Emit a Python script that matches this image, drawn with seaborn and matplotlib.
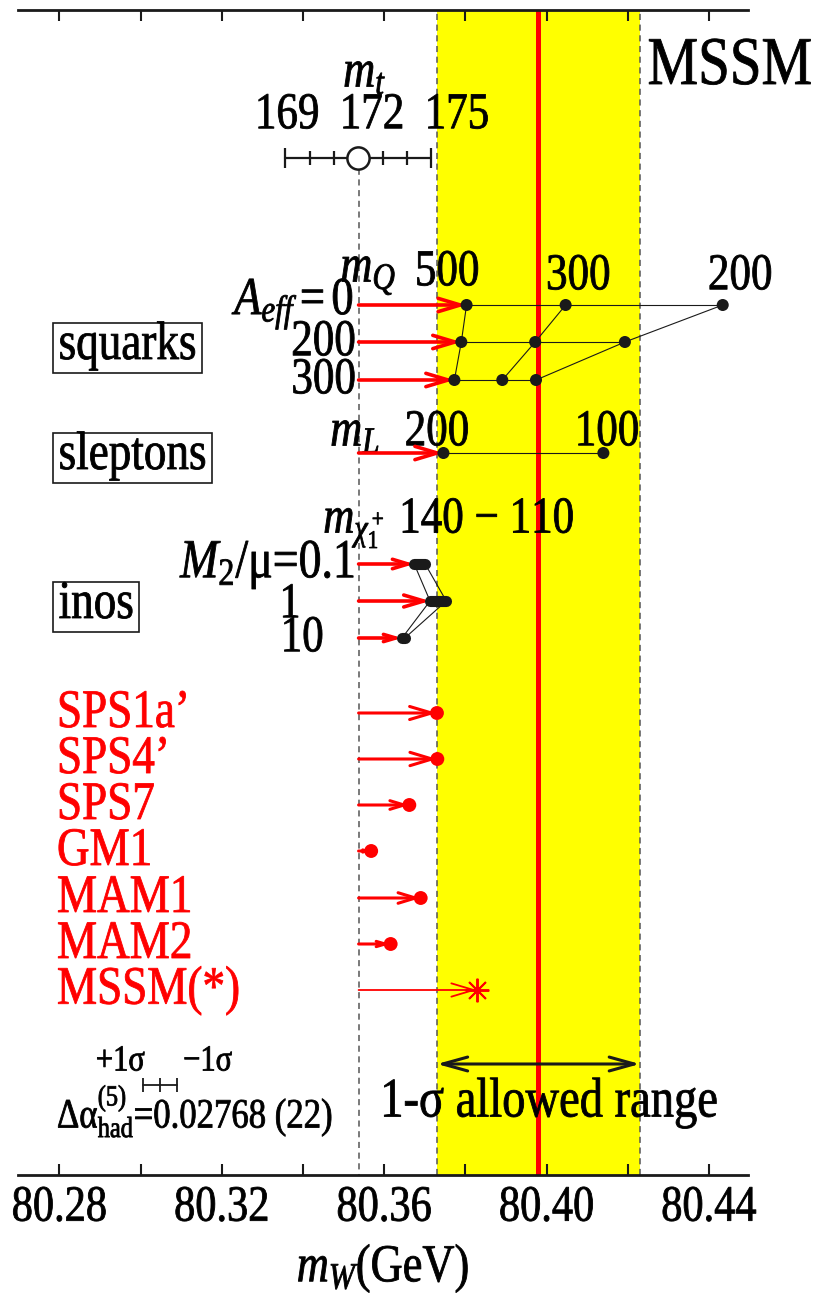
import matplotlib
matplotlib.use('Agg')
import matplotlib.pyplot as plt
import matplotlib.patheffects as pe
import seaborn as sns
import pandas as pd
from matplotlib.ticker import FixedLocator, FormatStrFormatter
from matplotlib.transforms import Affine2D

# ---- data (m_W in GeV) ----
mw_exp = 80.398
mw_err = 0.025
sm_ref = 80.3537

mt_vals = [169, 170, 171, 172, 173, 174, 175]
mt_mw = [80.3356, 80.3418, 80.3477, 80.3535, 80.3596, 80.3656, 80.3715]
mt_labels = ['169', '172', '175']
mt_label_x = [80.3361, 80.3570, 80.3779]

squark_mq = [500, 300, 200]
squark_aeff = [0, 200, 300]
squark_mw = [[80.3803, 80.4047, 80.4434],
             [80.3790, 80.3972, 80.4193],
             [80.3773, 80.3891, 80.3974]]

slepton_ml = [200, 100]
slepton_mw = [80.3746, 80.4140]

ino_ratio = ['0.1', '1', '10']
ino_mw_140 = [80.3674, 80.3713, 80.3644]
ino_mw_110 = [80.3701, 80.3753, 80.3651]

sps_names = ["SPS1a\u2019", "SPS4\u2019", "SPS7", "GM1", "MAM1", "MAM2", "MSSM(*)"]
sps_mw = [80.3730, 80.3731, 80.3662, 80.3568, 80.3690, 80.3616, 80.3828]

dalpha_mw = [80.3007, 80.3049, 80.3090]

# ---- row layout (vertical positions, top = small) ----
y_mt_lab, y_mt_num, y_mt = 73, 115, 158
y_mq_lab = 272
y_sq = [305, 342, 380]
y_ml_lab, y_sl = 432, 453
y_chi_lab = 522
y_ino = [564, 601, 638]
y_sps = [713, 759, 805, 851, 898, 944, 990]
y_sig_lab, y_da, y_da_lab = 1060, 1085, 1110
y_range, y_range_lab = 1064, 1102

sns.set_theme(style='white')
plt.rcParams['font.family'] = ['Liberation Serif', 'DejaVu Serif']
plt.rcParams['mathtext.fontset'] = 'custom'
plt.rcParams['mathtext.rm'] = 'Liberation Serif'
plt.rcParams['mathtext.it'] = 'Liberation Serif:italic'
plt.rcParams['mathtext.bf'] = 'Liberation Serif:bold'
plt.rcParams['text.color'] = 'black'
plt.rcParams['axes.labelcolor'] = 'black'
plt.rcParams['xtick.color'] = 'black'


class TallText(pe.AbstractPathEffect):
    """stretch glyphs vertically about the baseline and thicken them a little"""

    def __init__(self, sy=1.2, lw=0.6):
        super().__init__()
        self._sy = sy
        self._lw = lw

    def draw_path(self, renderer, gc, tpath, affine, rgbFace=None):
        gc0 = renderer.new_gc()
        gc0.copy_properties(gc)
        if rgbFace is not None:
            gc0.set_foreground(rgbFace)
            gc0.set_linewidth(self._lw)
        renderer.draw_path(gc0, tpath, Affine2D().scale(1, self._sy) + affine, rgbFace)
        gc0.restore()


TALL = [TallText()]

fig = plt.figure(figsize=(8.18, 13.09), dpi=100)
ax = fig.add_axes([18 / 818, 134.5 / 1309, 730.3 / 818, 1165 / 1309])
ax.set_xlim(80.2698, 80.4497)
ax.set_ylim(1174.5, 9.5)

RED = '#ff0000'
GREY = '#555555'


def txt(x, y, s, size=31, **kw):
    kw.setdefault('ha', 'center')
    kw.setdefault('va', 'center')
    return ax.text(x, y + 3, s, fontsize=size, path_effects=TALL, **kw)


# experimental band
ax.axvspan(mw_exp - mw_err, mw_exp + mw_err, color='#ffff00', zorder=0, lw=0)
for xb in (mw_exp - mw_err, mw_exp + mw_err):
    ax.axvline(xb, ls=(0, (4, 3)), color=GREY, lw=1.1, zorder=1)
ax.axvline(mw_exp, color=RED, lw=3.6, zorder=2)

# SM reference line
ax.plot([sm_ref, sm_ref], [y_mt, 1174.5], ls=(0, (4, 3)), color=GREY, lw=1.1, zorder=1)

# m_t scale
ax.plot([mt_mw[0], mt_mw[-1]], [y_mt, y_mt], color='k', lw=1.6, zorder=3)
ax.plot([mt_mw[0], mt_mw[-1]], [y_mt, y_mt], ls='none', marker='|', ms=14, mew=1.6, color='k', zorder=3)
ax.plot(mt_mw[1:-1], [y_mt] * 5, ls='none', marker='|', ms=10, mew=1.6, color='k', zorder=3)
ax.plot([mt_mw[3]], [y_mt], marker='o', ms=16, mfc='white', mec='k', mew=1.8, zorder=4)
txt(80.3499, y_mt_lab, r'$m_t$', size=32, ha='left')
for lab, xl in zip(mt_labels, mt_label_x):
    txt(xl, y_mt_num, lab, size=31)


def red_arrow(x0, x1, y, lw):
    p0 = ax.transData.transform((x0, y))
    p1 = ax.transData.transform((x1, y))
    length = (p1[0] - p0[0]) * 72 / fig.dpi
    head = min(0.28 * length, 16)
    style = '->,head_length=%.2f,head_width=%.2f' % (head / 10, 0.3 * head / 10)
    ax.annotate('', xy=(x1, y), xytext=(x0, y), zorder=4,
                arrowprops=dict(arrowstyle=style, color=RED, lw=lw,
                                shrinkA=0, shrinkB=0, mutation_scale=10))


# squarks
rows = []
for i, a in enumerate(squark_aeff):
    for j, m in enumerate(squark_mq):
        rows.append(dict(Aeff=a, mQ=m, mW=squark_mw[i][j], y=y_sq[i]))
sq = pd.DataFrame(rows)
for i, a in enumerate(squark_aeff):
    r = sq[sq.Aeff == a]
    ax.plot([r.mW.min(), r.mW.max()], [y_sq[i]] * 2, color='k', lw=0.8, zorder=3)
    red_arrow(sm_ref, r.mW.min(), y_sq[i], 2.6)
for m in squark_mq:
    c = sq[sq.mQ == m]
    ax.plot(c.mW, c.y, color='k', lw=0.8, zorder=3)
sns.scatterplot(data=sq, x='mW', y='y', color='k', s=75, edgecolor='none', zorder=5, ax=ax, legend=False)

txt(80.3492, y_mq_lab, r'$m_Q$', size=32, ha='left')
for m, xl, dy in zip(squark_mq, [80.3755, 80.4078, 80.4477], [0, 4, 4]):
    txt(xl, y_mq_lab + dy, str(m))
txt(80.3532, y_sq[0] - 2, r'$A_{eff}=0$', size=32, ha='right')
for a, yy in zip(squark_aeff[1:], y_sq[1:]):
    txt(80.3530, yy, str(a), ha='right')

# sleptons
ax.plot(slepton_mw, [y_sl] * 2, color='k', lw=0.8, zorder=3)
red_arrow(sm_ref, slepton_mw[0], y_sl, 2.6)
sns.scatterplot(x=slepton_mw, y=[y_sl] * 2, color='k', s=75, edgecolor='none', zorder=5, ax=ax, legend=False)
txt(80.3467, y_ml_lab, r'$m_L$', size=32, ha='left')
for m, xl in zip(slepton_ml, [80.3730, 80.4149]):
    txt(xl, y_ml_lab, str(m))

# inos
ax.plot(ino_mw_140, y_ino, color='k', lw=0.8, zorder=3)
ax.plot(ino_mw_110, y_ino, color='k', lw=0.8, zorder=3)
for a, b, yy in zip(ino_mw_140, ino_mw_110, y_ino):
    ax.plot([a, b], [yy, yy], color='k', lw=8, solid_capstyle='round', zorder=5)
    red_arrow(sm_ref, a, yy, 2.6)
txt(80.3450, y_chi_lab, r'$m_{\chi^+_1}$ 140 $-$ 110', ha='left')
txt(80.3530, y_ino[0], r'$M_2$/μ=0.1', size=33, ha='right')
txt(80.3368, y_ino[1] + 3, '1', size=30)
txt(80.3398, y_ino[2], '10')

# boxed group labels
box = dict(boxstyle='square,pad=0.12', fc='white', ec='k', lw=1.2)
for lab, yy in zip(['squarks', 'sleptons', 'inos'], [y_sq[1] + 3, y_sl + 2, y_ino[1] + 3]):
    txt(80.2798, yy, lab, size=32.5, ha='left', bbox=box)

# benchmark points
for name, v, yy in zip(sps_names, sps_mw, y_sps):
    txt(80.2794, yy, name, size=32.5, color=RED, ha='left')
    lw = 1.3 if name == 'MSSM(*)' else 2.2
    if v - sm_ref > 0.0012:
        red_arrow(sm_ref, v, yy, lw)
    else:
        ax.plot([sm_ref, v], [yy, yy], color=RED, lw=lw, zorder=4)
sp = pd.DataFrame(dict(name=sps_names[:-1], mW=sps_mw[:-1], y=y_sps[:-1]))
sns.scatterplot(data=sp, x='mW', y='y', color=RED, s=100, edgecolor='none', zorder=5, ax=ax, legend=False)
ax.plot([sps_mw[-1]], [y_sps[-1]], marker=(8, 2, 0), ms=17, mew=1.4, color=RED, zorder=5)

# delta alpha uncertainty
ax.plot([dalpha_mw[0], dalpha_mw[-1]], [y_da] * 2, color='k', lw=1.3)
ax.plot(dalpha_mw, [y_da] * 3, ls='none', marker='|', ms=10, mew=1.3, color='k')
txt(80.2950, y_sig_lab, '+1σ', size=22)
txt(80.3165, y_sig_lab, '\u22121σ', size=22)
txt(80.2794, y_da_lab, r'Δα$^{(5)}_{\rm had}$=0.02768 (22)', size=25, ha='left')

# 1-sigma range
ax.annotate('', xy=(mw_exp + mw_err, y_range), xytext=(mw_exp - mw_err, y_range), zorder=4,
            arrowprops=dict(arrowstyle='<->,head_length=1.8,head_width=0.5', color='k', lw=2.2,
                            shrinkA=0, shrinkB=0, mutation_scale=10))
txt(80.4006, y_range_lab, '1-σ allowed range', size=33.5)

txt(80.4654, 67, 'MSSM', size=41, ha='right', clip_on=False)

# axes styling
ax.xaxis.set_major_locator(FixedLocator([80.28, 80.32, 80.36, 80.40, 80.44]))
ax.xaxis.set_minor_locator(FixedLocator([80.30, 80.34, 80.38, 80.42]))
ax.xaxis.set_major_formatter(FormatStrFormatter('%.2f'))
ax.tick_params(axis='x', which='both', direction='in', top=True, bottom=True,
               length=8, width=1.5, color='k')
ax.tick_params(axis='x', which='major', labelsize=30.5, pad=12)
ax.set_yticks([])
ax.set_ylabel('')
for s in ('left', 'right'):
    ax.spines[s].set_visible(False)
for s in ('top', 'bottom'):
    ax.spines[s].set_linewidth(2)
    ax.spines[s].set_color('k')
ax.set_xlabel(r'$m_W$(GeV)', fontsize=32, labelpad=14)
ax.xaxis.label.set_path_effects(TALL)
for lab in ax.get_xticklabels():
    lab.set_path_effects(TALL)
ax.set_facecolor('white')

fig.savefig('out.png', dpi=100)
